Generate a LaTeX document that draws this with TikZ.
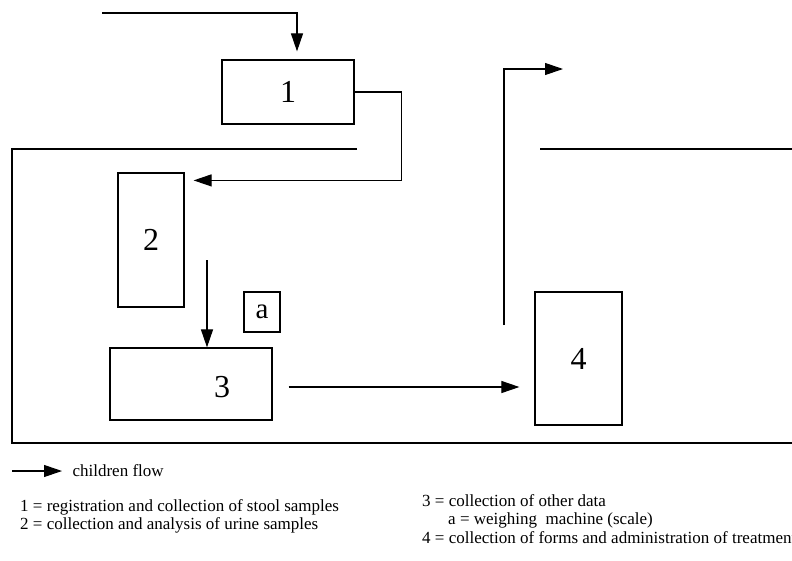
\documentclass[tikz,border=0pt]{standalone}
\usepackage{fontspec}
\setmainfont{Liberation Serif}
\usetikzlibrary{arrows.meta}

\begin{document}
\begin{tikzpicture}[x=1pt, y=-1pt,
        station/.style={draw, line width=1.2pt, inner sep=0pt,
            font=\fontsize{32}{32}\selectfont},
        flow/.style={line width=1.1pt, -{Triangle[length=18pt,width=12pt]}},
        wall/.style={line width=1.3pt},
        legend/.style={anchor=west, inner sep=0pt,
            font=\fontsize{17}{17}\selectfont}]
        \useasboundingbox (0,0) rectangle (792,560);

        % building walls
        \draw [wall] (357,149) -- (12,149) -- (12,443) -- (792,443);
        \draw [wall] (540,149) -- (792,149);

        % stations
        \node [station,
            minimum width=132pt,
            minimum height=64pt,
        ] (st1) at (288,92) {1};
        \node [station,
            minimum width=66pt,
            minimum height=134pt,
        ] (st2) at (151,240) {2};
        \node [station,
            minimum width=36pt,
            minimum height=40pt,
            font=\fontsize{29}{29}\selectfont,
        ] (scale) at (262,312) {a};
        \node [station,
            minimum width=162pt,
            minimum height=72pt,
            label={[xshift=31pt,yshift=-3pt,font=\fontsize{32}{32}\selectfont]center:3},
        ] (st3) at (191,384) {};
        \node [station,
            minimum width=87pt,
            minimum height=133pt,
        ] (st4) at (578.5,358.5) {4};

        % children flow
        \coordinate (entry) at (102,13);
        \coordinate (drop) at (207,260);
        \coordinate (gate) at (504,325);
        \coordinate (exit) at (563,69);
        \draw[flow] (entry) -| ([xshift=9pt,yshift=8pt]st1.north);
        \draw[flow] (st1.east) -- ++(47,0) |- ([xshift=9pt,yshift=-8pt]st2.north east);
        \draw[flow] (drop) -- (drop |- st3.north);
        \draw[flow] ([xshift=16pt,yshift=-3pt]st3.east) -- ([xshift=-15pt,yshift=-3pt]st3.east -| st4.west);
        \draw[flow] (gate) |- (exit);

        % legend
        \coordinate (keyarrow) at (12,471);
        \draw[flow] (keyarrow) -- ++(50,0) node[legend, right=10pt] (keyflow) {children flow};
        \node[legend] (key1) at (20,507) {1 = registration and collection of stool samples};
        \node[legend] (key2) at (20,525) {2 = collection and analysis of urine samples};
        \node[legend] (key3) at (422,501) {3 = collection of other data};
        \node[legend] (keya) at (448,520) {a = weighing\ \ machine (scale)};
        \node[legend] (key4) at (422,538) {4 = collection of forms and administration of treatment};
\end{tikzpicture}
\end{document}
